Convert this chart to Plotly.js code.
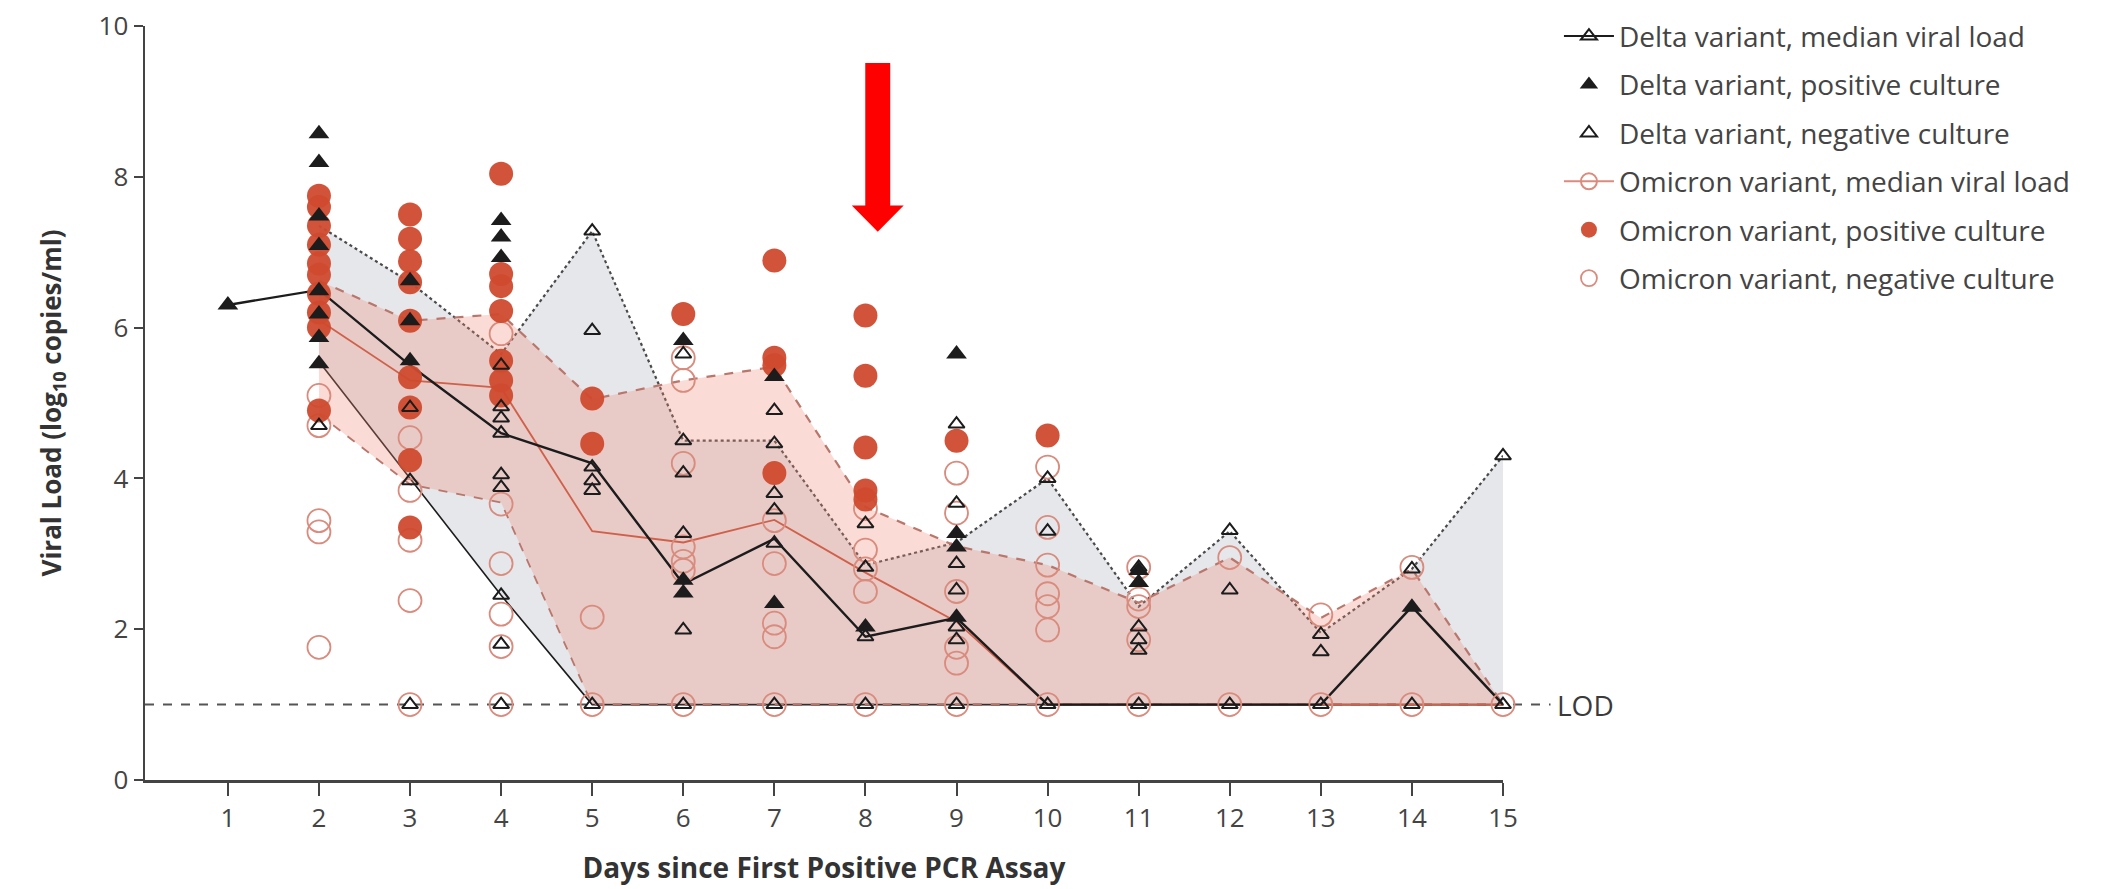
<!DOCTYPE html>
<html>
<head>
<meta charset="utf-8">
<script src="https://cdn.plot.ly/plotly-3.0.1.min.js"></script>
<style>html,body{margin:0;padding:0;background:#fff;}#chart{width:2105px;height:889px;}</style>
</head>
<body>
<div id="chart"></div>
<script>
// ---------- DATA ----------
const dayTicks = [1,2,3,4,5,6,7,8,9,10,11,12,13,14,15];
const envelopeDays = [2,3,4,5,6,7,8,9,10,11,12,13,14,15];
const deltaMedianDays = [1,2,3,4,5,6,7,8,9,10,11,12,13,14,15];
const deltaMedian = [6.3,6.5,5.5,4.6,4.2,2.6,3.2,1.9,2.15,1.0,1.0,1.0,1.0,2.3,1.0];
const deltaUpper = [7.35,6.6,5.65,7.28,4.5,4.5,2.85,3.15,4.0,2.3,3.3,1.95,2.8,4.3];
const deltaLower = [5.55,4.0,2.45,1.0,1.0,1.0,1.0,1.0,1.0,1.0,1.0,1.0,1.0,1.0];
const omicronMedian = [6.1,5.3,5.2,3.3,3.15,3.45,2.75,2.1,1.0,1.0,1.0,1.0,1.0,1.0];
const omicronUpper = [6.62,6.09,6.18,5.05,5.3,5.48,3.62,3.1,2.85,2.35,2.95,2.15,2.8,1.0];
const omicronLower = [4.85,3.92,3.68,1.0,1.0,1.0,1.0,1.0,1.0,1.0,1.0,1.0,1.0,1.0];

const deltaPosDay  = [1, 2,2,2,2,2,2,2,2, 3,3,3, 4,4,4, 6,6,6, 7,7, 8, 9,9,9,9, 11,11, 14];
const deltaPosLoad = [6.3, 8.57,8.19,7.48,7.09,6.49,6.18,5.87,5.52, 6.62,6.09,5.56, 7.42,7.2,6.93, 5.83,2.65,2.48, 5.35,2.34, 2.03, 5.65,3.27,3.09,2.16, 2.78,2.62, 2.29];

const deltaNegDay  = [2, 3,3,3, 4,4,4,4,4,4,4,4,4, 5,5,5,5,5,5, 6,6,6,6,6,6, 7,7,7,7,7,7, 8,8,8,8, 9,9,9,9,9,9,9, 10,10,10, 11,11,11,11,11, 12,12,12, 13,13,13, 14,14, 15,15];
const deltaNegLoad = [4.7, 4.94,3.97,1.0, 5.5,4.95,4.8,4.6,4.05,3.88,2.45,1.8,1.0, 7.28,5.96,4.15,3.97,3.84,1.0, 5.65,4.5,4.07,3.27,1.99,1.0, 4.9,4.46,3.8,3.58,3.14,1.0, 3.4,2.82,1.9,1.0, 4.72,3.67,2.87,2.52,2.03,1.86,1.0, 4.0,3.3,1.0, 2.82,2.03,1.86,1.72,1.0, 3.31,2.52,1.0, 1.93,1.7,1.0, 2.8,1.0, 4.3,1.0];

const omicronPosDay  = [2,2,2,2,2,2,2,2,2,2, 3,3,3,3,3,3,3,3,3, 4,4,4,4,4,4,4, 5,5, 6, 7,7,7,7, 8,8,8,8,8, 9, 10];
const omicronPosLoad = [7.75,7.6,7.35,7.1,6.85,6.7,6.45,6.2,6.0,4.9, 7.5,7.18,6.88,6.6,6.09,5.34,4.94,4.24,3.35, 8.04,6.71,6.55,6.22,5.56,5.3,5.1, 5.06,4.46, 6.18, 6.89,5.6,5.5,4.07, 6.16,5.36,4.41,3.84,3.72, 4.5, 4.57];

const omicronNegDay  = [2,2,2,2,2, 3,3,3,3,3, 4,4,4,4,4,4, 5,5, 6,6,6,6,6,6,6, 7,7,7,7,7, 8,8,8,8,8, 9,9,9,9,9,9, 10,10,10,10,10,10,10, 11,11,11,11,11, 12,12, 13,13, 14,14, 15];
const omicronNegLoad = [5.1,4.7,3.44,3.29,1.76, 4.54,3.84,3.18,2.38,1.0, 5.92,3.66,2.87,2.2,1.77,1.0, 2.16,1.0, 5.6,5.3,4.2,3.09,2.9,2.78,1.0, 3.44,2.87,2.08,1.9,1.0, 3.6,3.05,2.8,2.5,1.0, 4.07,3.54,2.5,1.76,1.55,1.0, 4.15,3.35,2.85,2.47,2.3,1.99,1.0, 2.82,2.4,2.3,1.86,1.0, 2.95,1.0, 2.19,1.0, 2.82,1.0, 1.0];

const lodValue = 1.0;
const legendNames = [
  'Delta variant, median viral load',
  'Delta variant, positive culture',
  'Delta variant, negative culture',
  'Omicron variant, median viral load',
  'Omicron variant, positive culture',
  'Omicron variant, negative culture'
];

// ---------- STYLE ----------
const C = {
  black:'#1c1c1c', red:'#cf4a2e', salmon:'#d98b7d', redLine:'#d0604a',
  redDash:'#b9766c', dot:'#4a4a4a', axis:'#444', text:'#3a3a3a'
};
const FONT = '"Open Sans", Lato, sans-serif';

const traces = [
  // Delta envelope
  {x:envelopeDays, y:deltaLower, mode:'lines', line:{color:C.black, width:1.6}, showlegend:false, hoverinfo:'skip', cliponaxis:false},
  {x:envelopeDays, y:deltaUpper, mode:'lines', fill:'tonexty', fillcolor:'rgba(175,182,195,0.33)',
   line:{color:C.dot, width:2.2, dash:'dot'}, showlegend:false, hoverinfo:'skip', cliponaxis:false},
  // Omicron envelope
  {x:envelopeDays, y:omicronLower, mode:'lines', line:{color:C.redDash, width:1.8, dash:'dash'}, showlegend:false, hoverinfo:'skip', cliponaxis:false},
  {x:envelopeDays, y:omicronUpper, mode:'lines', fill:'tonexty', fillcolor:'rgba(238,135,115,0.30)',
   line:{color:C.redDash, width:2.2, dash:'dash'}, showlegend:false, hoverinfo:'skip', cliponaxis:false},
  // medians
  {x:envelopeDays, y:omicronMedian, mode:'lines', line:{color:C.redLine, width:1.8}, showlegend:false, cliponaxis:false},
  {x:deltaMedianDays, y:deltaMedian, mode:'lines', line:{color:C.black, width:2.4}, showlegend:false, cliponaxis:false},
  // points
  {x:omicronNegDay, y:omicronNegLoad, mode:'markers', name:legendNames[5], legendrank:6, legendgroup:'g6',
   marker:{symbol:'circle-open', size:23, color:C.salmon, line:{width:1.8}}, cliponaxis:false},
  {x:omicronPosDay, y:omicronPosLoad, mode:'markers', name:legendNames[4], legendrank:5, legendgroup:'g5',
   marker:{symbol:'circle', size:24, color:C.red, opacity:0.95}, cliponaxis:false},
  {x:deltaNegDay, y:deltaNegLoad, mode:'markers', name:legendNames[2], legendrank:3, legendgroup:'g3',
   marker:{symbol:'triangle-up-open', size:14, color:C.black, line:{width:2}}, cliponaxis:false},
  {x:deltaPosDay, y:deltaPosLoad, mode:'markers', name:legendNames[1], legendrank:2, legendgroup:'g2',
   marker:{symbol:'triangle-up', size:18, color:C.black}, cliponaxis:false},
  // legend-only entries for medians (no data)
  {x:[null], y:[null], mode:'lines+markers', name:legendNames[0], legendrank:1, legendgroup:'g1',
   line:{color:C.black, width:2}, marker:{symbol:'triangle-up-open', size:14, color:C.black, line:{width:2}}},
  {x:[null], y:[null], mode:'lines+markers', name:legendNames[3], legendrank:4, legendgroup:'g4',
   line:{color:C.salmon, width:2}, marker:{symbol:'circle-open', size:16, color:C.salmon, line:{width:2}}}
];

// arrow geometry (data units)
const arrowX = 8.135, arrowShaftHalf = 0.137, arrowHeadHalf = 0.285;
const arrowTop = 9.51, arrowHeadBase = 7.62, arrowTip = 7.27;
const arrowPath = 'M ' + (arrowX-arrowShaftHalf) + ',' + arrowTop +
  ' L ' + (arrowX+arrowShaftHalf) + ',' + arrowTop +
  ' L ' + (arrowX+arrowShaftHalf) + ',' + arrowHeadBase +
  ' L ' + (arrowX+arrowHeadHalf) + ',' + arrowHeadBase +
  ' L ' + arrowX + ',' + arrowTip +
  ' L ' + (arrowX-arrowHeadHalf) + ',' + arrowHeadBase +
  ' L ' + (arrowX-arrowShaftHalf) + ',' + arrowHeadBase + ' Z';

const layout = {
  width:2105, height:889,
  margin:{l:145, r:602, t:25, b:109, pad:0},
  paper_bgcolor:'#ffffff', plot_bgcolor:'#ffffff',
  font:{family:FONT, color:C.text},
  showlegend:true,
  xaxis:{
    range:[0.09,15], tickvals:dayTicks, ticktext:dayTicks.map(String),
    ticks:'outside', ticklen:13, tickwidth:2, tickcolor:C.axis,
    showline:true, linecolor:C.axis, linewidth:2.5, showgrid:false, zeroline:false,
    tickfont:{family:FONT, size:26, color:'#444'},
    title:{text:'<b>Days since First Positive PCR Assay</b>', font:{family:FONT, size:28, color:'#333'}, standoff:25}
  },
  yaxis:{
    range:[0,10], tickvals:[0,2,4,6,8,10],
    ticks:'outside', ticklen:9, tickwidth:2, tickcolor:C.axis,
    showline:true, linecolor:C.axis, linewidth:2.5, showgrid:false, zeroline:false,
    tickfont:{family:FONT, size:26, color:'#444'},
    title:{text:'<b>Viral Load (log<sub>10</sub> copies/ml)</b>', font:{family:FONT, size:26, color:'#333'}, standoff:30}
  },
  legend:{
    x:1.0412, y:1.018, xanchor:'left', yanchor:'top',
    font:{family:FONT, size:28, color:'#444'},
    bgcolor:'rgba(255,255,255,0)', borderwidth:0,
    itemwidth:50, tracegroupgap:9, traceorder:'grouped'
  },
  shapes:[
    {type:'line', xref:'paper', yref:'y', x0:0, x1:1.035, y0:lodValue, y1:lodValue,
     line:{color:'#555', width:2, dash:'dash'}, layer:'below'},
    {type:'path', xref:'x', yref:'y', path:arrowPath, fillcolor:'#ff0000', line:{width:0}, layer:'above'}
  ],
  annotations:[
    {xref:'paper', yref:'y', x:1.038, y:lodValue, xanchor:'left', yanchor:'middle', showarrow:false,
     text:'LOD', font:{family:FONT, size:28, color:'#3a3a3a'}}
  ]
};

Plotly.newPlot('chart', traces, layout, {staticPlot:true, displayModeBar:false});
</script>
</body>
</html>
